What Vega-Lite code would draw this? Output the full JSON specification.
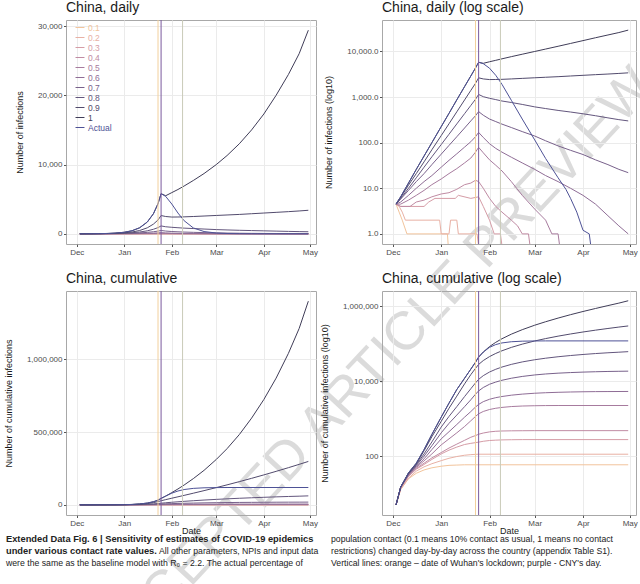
{
"$schema": "https://vega.github.io/schema/vega-lite/v6.json",
"background": "white",
"padding": {"left": 3, "top": 0, "right": 4, "bottom": 0},
"config": {
 "font": "Liberation Sans",
 "view": {"stroke": "#a8a8a8", "strokeWidth": 1},
 "axis": {"grid": true, "gridColor": "#ebebeb", "gridWidth": 1, "domain": false, "tickColor": "#555555", "tickSize": 2.5, "labelColor": "#4d4d4d", "labelFontSize": 8, "labelPadding": 1.5, "titleFontSize": 9, "titleFontWeight": "normal", "titleColor": "#1a1a1a"},
 "axisY": {"titlePadding": 13},
 "axisX": {"titlePadding": -1},
 "title": {"fontSize": 14, "fontWeight": "normal", "anchor": "start", "frame": "group", "color": "#1a1a1a", "offset": 5},
 "line": {"strokeWidth": 1}
},
"datasets": {
 "vlines": [
  {"date": "2020-01-23", "kind": "lockdown"},
  {"date": "2020-01-25", "kind": "cny"},
  {"date": "2020-02-08", "kind": "other"}
 ],
 "watermark": [
  {"date": "2020-06-11", "value": -19500, "text": "ACCEPTED ARTICLE PREVIEW"}
 ],
 "caption": [
  {"col": "L", "line": 1, "part": "b", "text": "Extended Data Fig. 6 | Sensitivity of estimates of COVID-19 epidemics"},
  {"col": "L", "line": 2, "part": "b", "text": "under various contact rate values."},
  {"col": "L", "line": 2, "part": "t", "text": "All other parameters, NPIs and input data"},
  {"col": "L", "line": 3, "part": "n", "text": "were the same as the baseline model with R₀ = 2.2. The actual percentage of"},
  {"col": "R", "line": 1, "part": "n", "text": "population contact (0.1 means 10% contact as usual, 1 means no contact"},
  {"col": "R", "line": 2, "part": "n", "text": "restrictions) changed day-by-day across the country (appendix Table S1)."},
  {"col": "R", "line": 3, "part": "n", "text": "Vertical lines: orange – date of Wuhan's lockdown; purple - CNY's day."}
 ],
 "daily": [
  {"contact": "0.1", "date": "2019-12-03", "value": 4.5},
  {"contact": "0.1", "date": "2019-12-05", "value": 3},
  {"contact": "0.1", "date": "2019-12-07", "value": 2},
  {"contact": "0.1", "date": "2019-12-10", "value": 1},
  {"contact": "0.1", "date": "2020-01-05", "value": 1},
  {"contact": "0.1", "date": "2020-01-06", "value": 0.3},
  {"contact": "0.1", "date": "2020-04-30", "value": 0.3},
  {"contact": "0.2", "date": "2019-12-03", "value": 4.5},
  {"contact": "0.2", "date": "2019-12-05", "value": 4},
  {"contact": "0.2", "date": "2019-12-07", "value": 3},
  {"contact": "0.2", "date": "2019-12-09", "value": 2},
  {"contact": "0.2", "date": "2019-12-31", "value": 2},
  {"contact": "0.2", "date": "2020-01-01", "value": 1},
  {"contact": "0.2", "date": "2020-01-06", "value": 1},
  {"contact": "0.2", "date": "2020-01-07", "value": 2},
  {"contact": "0.2", "date": "2020-01-11", "value": 2},
  {"contact": "0.2", "date": "2020-01-12", "value": 1},
  {"contact": "0.2", "date": "2020-01-24", "value": 1},
  {"contact": "0.2", "date": "2020-01-26", "value": 0.3},
  {"contact": "0.2", "date": "2020-04-30", "value": 0.3},
  {"contact": "0.3", "date": "2019-12-03", "value": 4.5},
  {"contact": "0.3", "date": "2019-12-06", "value": 4},
  {"contact": "0.3", "date": "2019-12-21", "value": 4},
  {"contact": "0.3", "date": "2019-12-24", "value": 5},
  {"contact": "0.3", "date": "2019-12-28", "value": 6},
  {"contact": "0.3", "date": "2020-01-10", "value": 6},
  {"contact": "0.3", "date": "2020-01-12", "value": 7},
  {"contact": "0.3", "date": "2020-01-20", "value": 6},
  {"contact": "0.3", "date": "2020-01-25", "value": 6.5},
  {"contact": "0.3", "date": "2020-01-28", "value": 4},
  {"contact": "0.3", "date": "2020-02-01", "value": 2},
  {"contact": "0.3", "date": "2020-02-04", "value": 1},
  {"contact": "0.3", "date": "2020-02-08", "value": 1},
  {"contact": "0.3", "date": "2020-02-10", "value": 0.3},
  {"contact": "0.3", "date": "2020-04-30", "value": 0.3},
  {"contact": "0.4", "date": "2019-12-03", "value": 4.5},
  {"contact": "0.4", "date": "2019-12-06", "value": 4},
  {"contact": "0.4", "date": "2019-12-12", "value": 4},
  {"contact": "0.4", "date": "2019-12-16", "value": 5},
  {"contact": "0.4", "date": "2019-12-21", "value": 5.5},
  {"contact": "0.4", "date": "2019-12-26", "value": 6.5},
  {"contact": "0.4", "date": "2020-01-01", "value": 7.5},
  {"contact": "0.4", "date": "2020-01-06", "value": 8},
  {"contact": "0.4", "date": "2020-01-11", "value": 9.5},
  {"contact": "0.4", "date": "2020-01-16", "value": 12},
  {"contact": "0.4", "date": "2020-01-20", "value": 13},
  {"contact": "0.4", "date": "2020-01-23", "value": 15},
  {"contact": "0.4", "date": "2020-01-25", "value": 14},
  {"contact": "0.4", "date": "2020-01-28", "value": 10},
  {"contact": "0.4", "date": "2020-02-01", "value": 6},
  {"contact": "0.4", "date": "2020-02-05", "value": 4},
  {"contact": "0.4", "date": "2020-02-09", "value": 3},
  {"contact": "0.4", "date": "2020-02-15", "value": 2},
  {"contact": "0.4", "date": "2020-02-19", "value": 1.5},
  {"contact": "0.4", "date": "2020-02-22", "value": 1},
  {"contact": "0.4", "date": "2020-02-26", "value": 1},
  {"contact": "0.4", "date": "2020-02-28", "value": 0.3},
  {"contact": "0.4", "date": "2020-04-30", "value": 0.3},
  {"contact": "0.5", "date": "2019-12-03", "value": 4.5},
  {"contact": "0.5", "date": "2019-12-06", "value": 4.5},
  {"contact": "0.5", "date": "2019-12-11", "value": 5.5},
  {"contact": "0.5", "date": "2019-12-16", "value": 7},
  {"contact": "0.5", "date": "2019-12-21", "value": 9},
  {"contact": "0.5", "date": "2019-12-26", "value": 12},
  {"contact": "0.5", "date": "2020-01-01", "value": 16},
  {"contact": "0.5", "date": "2020-01-06", "value": 21},
  {"contact": "0.5", "date": "2020-01-11", "value": 27},
  {"contact": "0.5", "date": "2020-01-16", "value": 36},
  {"contact": "0.5", "date": "2020-01-20", "value": 46},
  {"contact": "0.5", "date": "2020-01-23", "value": 62},
  {"contact": "0.5", "date": "2020-01-25", "value": 79},
  {"contact": "0.5", "date": "2020-01-28", "value": 60},
  {"contact": "0.5", "date": "2020-02-01", "value": 42},
  {"contact": "0.5", "date": "2020-02-05", "value": 32},
  {"contact": "0.5", "date": "2020-02-09", "value": 24},
  {"contact": "0.5", "date": "2020-02-15", "value": 14},
  {"contact": "0.5", "date": "2020-02-22", "value": 7},
  {"contact": "0.5", "date": "2020-03-01", "value": 3.5},
  {"contact": "0.5", "date": "2020-03-08", "value": 2},
  {"contact": "0.5", "date": "2020-03-12", "value": 1},
  {"contact": "0.5", "date": "2020-03-16", "value": 1},
  {"contact": "0.5", "date": "2020-03-18", "value": 0.3},
  {"contact": "0.5", "date": "2020-04-30", "value": 0.3},
  {"contact": "0.6", "date": "2019-12-03", "value": 4.5},
  {"contact": "0.6", "date": "2019-12-06", "value": 5},
  {"contact": "0.6", "date": "2019-12-11", "value": 7},
  {"contact": "0.6", "date": "2019-12-16", "value": 10},
  {"contact": "0.6", "date": "2019-12-21", "value": 14},
  {"contact": "0.6", "date": "2019-12-26", "value": 19},
  {"contact": "0.6", "date": "2020-01-01", "value": 29},
  {"contact": "0.6", "date": "2020-01-06", "value": 41},
  {"contact": "0.6", "date": "2020-01-11", "value": 57},
  {"contact": "0.6", "date": "2020-01-16", "value": 80},
  {"contact": "0.6", "date": "2020-01-20", "value": 105},
  {"contact": "0.6", "date": "2020-01-23", "value": 135},
  {"contact": "0.6", "date": "2020-01-25", "value": 168},
  {"contact": "0.6", "date": "2020-01-28", "value": 130},
  {"contact": "0.6", "date": "2020-02-01", "value": 95},
  {"contact": "0.6", "date": "2020-02-05", "value": 75},
  {"contact": "0.6", "date": "2020-02-09", "value": 62},
  {"contact": "0.6", "date": "2020-02-15", "value": 48},
  {"contact": "0.6", "date": "2020-02-22", "value": 36},
  {"contact": "0.6", "date": "2020-03-01", "value": 26},
  {"contact": "0.6", "date": "2020-03-08", "value": 19},
  {"contact": "0.6", "date": "2020-03-16", "value": 14},
  {"contact": "0.6", "date": "2020-03-24", "value": 10},
  {"contact": "0.6", "date": "2020-04-01", "value": 7},
  {"contact": "0.6", "date": "2020-04-09", "value": 4.5},
  {"contact": "0.6", "date": "2020-04-17", "value": 2.5},
  {"contact": "0.6", "date": "2020-04-24", "value": 1.5},
  {"contact": "0.6", "date": "2020-04-30", "value": 1},
  {"contact": "0.7", "date": "2019-12-03", "value": 4.5},
  {"contact": "0.7", "date": "2019-12-06", "value": 5.8},
  {"contact": "0.7", "date": "2019-12-11", "value": 9},
  {"contact": "0.7", "date": "2019-12-16", "value": 14},
  {"contact": "0.7", "date": "2019-12-21", "value": 21},
  {"contact": "0.7", "date": "2019-12-26", "value": 33},
  {"contact": "0.7", "date": "2020-01-01", "value": 56},
  {"contact": "0.7", "date": "2020-01-06", "value": 87},
  {"contact": "0.7", "date": "2020-01-11", "value": 135},
  {"contact": "0.7", "date": "2020-01-16", "value": 210},
  {"contact": "0.7", "date": "2020-01-20", "value": 300},
  {"contact": "0.7", "date": "2020-01-23", "value": 390},
  {"contact": "0.7", "date": "2020-01-25", "value": 480},
  {"contact": "0.7", "date": "2020-01-28", "value": 400},
  {"contact": "0.7", "date": "2020-02-01", "value": 330},
  {"contact": "0.7", "date": "2020-02-05", "value": 290},
  {"contact": "0.7", "date": "2020-02-09", "value": 255},
  {"contact": "0.7", "date": "2020-02-15", "value": 215},
  {"contact": "0.7", "date": "2020-02-22", "value": 175},
  {"contact": "0.7", "date": "2020-03-01", "value": 140},
  {"contact": "0.7", "date": "2020-03-08", "value": 110},
  {"contact": "0.7", "date": "2020-03-16", "value": 85},
  {"contact": "0.7", "date": "2020-03-24", "value": 68},
  {"contact": "0.7", "date": "2020-04-01", "value": 55},
  {"contact": "0.7", "date": "2020-04-09", "value": 42},
  {"contact": "0.7", "date": "2020-04-17", "value": 33},
  {"contact": "0.7", "date": "2020-04-24", "value": 26},
  {"contact": "0.7", "date": "2020-04-30", "value": 22},
  {"contact": "0.8", "date": "2019-12-03", "value": 4.5},
  {"contact": "0.8", "date": "2019-12-06", "value": 6},
  {"contact": "0.8", "date": "2019-12-11", "value": 10},
  {"contact": "0.8", "date": "2019-12-16", "value": 17},
  {"contact": "0.8", "date": "2019-12-21", "value": 29},
  {"contact": "0.8", "date": "2019-12-26", "value": 49},
  {"contact": "0.8", "date": "2020-01-01", "value": 91},
  {"contact": "0.8", "date": "2020-01-06", "value": 153},
  {"contact": "0.8", "date": "2020-01-11", "value": 258},
  {"contact": "0.8", "date": "2020-01-16", "value": 433},
  {"contact": "0.8", "date": "2020-01-20", "value": 655},
  {"contact": "0.8", "date": "2020-01-23", "value": 895},
  {"contact": "0.8", "date": "2020-01-25", "value": 1140},
  {"contact": "0.8", "date": "2020-01-28", "value": 1020},
  {"contact": "0.8", "date": "2020-02-01", "value": 940},
  {"contact": "0.8", "date": "2020-02-05", "value": 880},
  {"contact": "0.8", "date": "2020-02-09", "value": 820},
  {"contact": "0.8", "date": "2020-02-15", "value": 760},
  {"contact": "0.8", "date": "2020-02-22", "value": 690},
  {"contact": "0.8", "date": "2020-03-01", "value": 610},
  {"contact": "0.8", "date": "2020-03-08", "value": 560},
  {"contact": "0.8", "date": "2020-03-16", "value": 510},
  {"contact": "0.8", "date": "2020-03-24", "value": 470},
  {"contact": "0.8", "date": "2020-04-01", "value": 430},
  {"contact": "0.8", "date": "2020-04-09", "value": 390},
  {"contact": "0.8", "date": "2020-04-17", "value": 350},
  {"contact": "0.8", "date": "2020-04-24", "value": 320},
  {"contact": "0.8", "date": "2020-04-30", "value": 300},
  {"contact": "0.9", "date": "2019-12-03", "value": 4.5},
  {"contact": "0.9", "date": "2019-12-06", "value": 6.4},
  {"contact": "0.9", "date": "2019-12-11", "value": 11.7},
  {"contact": "0.9", "date": "2019-12-16", "value": 21},
  {"contact": "0.9", "date": "2019-12-21", "value": 38},
  {"contact": "0.9", "date": "2019-12-26", "value": 70},
  {"contact": "0.9", "date": "2020-01-01", "value": 143},
  {"contact": "0.9", "date": "2020-01-06", "value": 260},
  {"contact": "0.9", "date": "2020-01-11", "value": 475},
  {"contact": "0.9", "date": "2020-01-16", "value": 865},
  {"contact": "0.9", "date": "2020-01-20", "value": 1400},
  {"contact": "0.9", "date": "2020-01-23", "value": 2000},
  {"contact": "0.9", "date": "2020-01-25", "value": 2640},
  {"contact": "0.9", "date": "2020-01-28", "value": 2500},
  {"contact": "0.9", "date": "2020-02-01", "value": 2420},
  {"contact": "0.9", "date": "2020-02-05", "value": 2430},
  {"contact": "0.9", "date": "2020-02-09", "value": 2450},
  {"contact": "0.9", "date": "2020-02-15", "value": 2500},
  {"contact": "0.9", "date": "2020-02-22", "value": 2570},
  {"contact": "0.9", "date": "2020-03-01", "value": 2650},
  {"contact": "0.9", "date": "2020-03-08", "value": 2720},
  {"contact": "0.9", "date": "2020-03-16", "value": 2800},
  {"contact": "0.9", "date": "2020-03-24", "value": 2900},
  {"contact": "0.9", "date": "2020-04-01", "value": 3000},
  {"contact": "0.9", "date": "2020-04-09", "value": 3100},
  {"contact": "0.9", "date": "2020-04-17", "value": 3200},
  {"contact": "0.9", "date": "2020-04-24", "value": 3300},
  {"contact": "0.9", "date": "2020-04-30", "value": 3400},
  {"contact": "1", "date": "2019-12-03", "value": 4.5},
  {"contact": "1", "date": "2019-12-06", "value": 6.5},
  {"contact": "1", "date": "2019-12-11", "value": 13},
  {"contact": "1", "date": "2019-12-16", "value": 26},
  {"contact": "1", "date": "2019-12-21", "value": 51},
  {"contact": "1", "date": "2019-12-26", "value": 100},
  {"contact": "1", "date": "2020-01-01", "value": 225},
  {"contact": "1", "date": "2020-01-06", "value": 440},
  {"contact": "1", "date": "2020-01-11", "value": 870},
  {"contact": "1", "date": "2020-01-16", "value": 1700},
  {"contact": "1", "date": "2020-01-20", "value": 2900},
  {"contact": "1", "date": "2020-01-23", "value": 4350},
  {"contact": "1", "date": "2020-01-25", "value": 5800},
  {"contact": "1", "date": "2020-01-28", "value": 5500},
  {"contact": "1", "date": "2020-02-01", "value": 5950},
  {"contact": "1", "date": "2020-02-05", "value": 6400},
  {"contact": "1", "date": "2020-02-09", "value": 6900},
  {"contact": "1", "date": "2020-02-15", "value": 7700},
  {"contact": "1", "date": "2020-02-22", "value": 8700},
  {"contact": "1", "date": "2020-03-01", "value": 10000},
  {"contact": "1", "date": "2020-03-08", "value": 11300},
  {"contact": "1", "date": "2020-03-16", "value": 13000},
  {"contact": "1", "date": "2020-03-24", "value": 15000},
  {"contact": "1", "date": "2020-04-01", "value": 17300},
  {"contact": "1", "date": "2020-04-09", "value": 20000},
  {"contact": "1", "date": "2020-04-17", "value": 23000},
  {"contact": "1", "date": "2020-04-24", "value": 26000},
  {"contact": "1", "date": "2020-04-30", "value": 29400},
  {"contact": "Actual", "date": "2019-12-03", "value": 4.5},
  {"contact": "Actual", "date": "2019-12-06", "value": 6.5},
  {"contact": "Actual", "date": "2019-12-11", "value": 13},
  {"contact": "Actual", "date": "2019-12-16", "value": 26},
  {"contact": "Actual", "date": "2019-12-21", "value": 51},
  {"contact": "Actual", "date": "2019-12-26", "value": 100},
  {"contact": "Actual", "date": "2020-01-01", "value": 225},
  {"contact": "Actual", "date": "2020-01-06", "value": 440},
  {"contact": "Actual", "date": "2020-01-11", "value": 870},
  {"contact": "Actual", "date": "2020-01-16", "value": 1700},
  {"contact": "Actual", "date": "2020-01-20", "value": 2900},
  {"contact": "Actual", "date": "2020-01-23", "value": 4350},
  {"contact": "Actual", "date": "2020-01-25", "value": 5800},
  {"contact": "Actual", "date": "2020-01-28", "value": 5400},
  {"contact": "Actual", "date": "2020-02-01", "value": 4300},
  {"contact": "Actual", "date": "2020-02-05", "value": 3000},
  {"contact": "Actual", "date": "2020-02-09", "value": 1900},
  {"contact": "Actual", "date": "2020-02-15", "value": 850},
  {"contact": "Actual", "date": "2020-02-22", "value": 330},
  {"contact": "Actual", "date": "2020-03-01", "value": 115},
  {"contact": "Actual", "date": "2020-03-08", "value": 45},
  {"contact": "Actual", "date": "2020-03-16", "value": 17},
  {"contact": "Actual", "date": "2020-03-21", "value": 9.5},
  {"contact": "Actual", "date": "2020-03-24", "value": 6},
  {"contact": "Actual", "date": "2020-03-28", "value": 3},
  {"contact": "Actual", "date": "2020-04-01", "value": 1.2},
  {"contact": "Actual", "date": "2020-04-05", "value": 1},
  {"contact": "Actual", "date": "2020-04-07", "value": 0.3},
  {"contact": "Actual", "date": "2020-04-30", "value": 0.3}
 ],
 "cumul": [
  {"contact": "0.1", "date": "2019-12-03", "value": 5},
  {"contact": "0.1", "date": "2019-12-06", "value": 13},
  {"contact": "0.1", "date": "2019-12-11", "value": 25},
  {"contact": "0.1", "date": "2019-12-16", "value": 35},
  {"contact": "0.1", "date": "2019-12-21", "value": 43},
  {"contact": "0.1", "date": "2019-12-26", "value": 49},
  {"contact": "0.1", "date": "2020-01-01", "value": 54},
  {"contact": "0.1", "date": "2020-01-06", "value": 57},
  {"contact": "0.1", "date": "2020-01-11", "value": 58},
  {"contact": "0.1", "date": "2020-01-16", "value": 59},
  {"contact": "0.1", "date": "2020-04-30", "value": 59},
  {"contact": "0.2", "date": "2019-12-03", "value": 5},
  {"contact": "0.2", "date": "2019-12-06", "value": 13},
  {"contact": "0.2", "date": "2019-12-11", "value": 26},
  {"contact": "0.2", "date": "2019-12-16", "value": 40},
  {"contact": "0.2", "date": "2019-12-21", "value": 52},
  {"contact": "0.2", "date": "2019-12-26", "value": 63},
  {"contact": "0.2", "date": "2020-01-01", "value": 76},
  {"contact": "0.2", "date": "2020-01-06", "value": 88},
  {"contact": "0.2", "date": "2020-01-11", "value": 98},
  {"contact": "0.2", "date": "2020-01-16", "value": 106},
  {"contact": "0.2", "date": "2020-01-20", "value": 110},
  {"contact": "0.2", "date": "2020-01-23", "value": 112},
  {"contact": "0.2", "date": "2020-01-25", "value": 113},
  {"contact": "0.2", "date": "2020-04-30", "value": 113},
  {"contact": "0.3", "date": "2019-12-03", "value": 5},
  {"contact": "0.3", "date": "2019-12-06", "value": 14},
  {"contact": "0.3", "date": "2019-12-11", "value": 29},
  {"contact": "0.3", "date": "2019-12-16", "value": 45},
  {"contact": "0.3", "date": "2019-12-21", "value": 60},
  {"contact": "0.3", "date": "2019-12-26", "value": 82},
  {"contact": "0.3", "date": "2020-01-01", "value": 115},
  {"contact": "0.3", "date": "2020-01-06", "value": 145},
  {"contact": "0.3", "date": "2020-01-11", "value": 175},
  {"contact": "0.3", "date": "2020-01-16", "value": 205},
  {"contact": "0.3", "date": "2020-01-20", "value": 220},
  {"contact": "0.3", "date": "2020-01-23", "value": 230},
  {"contact": "0.3", "date": "2020-01-25", "value": 237},
  {"contact": "0.3", "date": "2020-01-28", "value": 250},
  {"contact": "0.3", "date": "2020-02-01", "value": 262},
  {"contact": "0.3", "date": "2020-02-05", "value": 268},
  {"contact": "0.3", "date": "2020-02-09", "value": 272},
  {"contact": "0.3", "date": "2020-02-15", "value": 275},
  {"contact": "0.3", "date": "2020-02-22", "value": 277},
  {"contact": "0.3", "date": "2020-04-30", "value": 277},
  {"contact": "0.4", "date": "2019-12-03", "value": 5},
  {"contact": "0.4", "date": "2019-12-06", "value": 14},
  {"contact": "0.4", "date": "2019-12-11", "value": 30},
  {"contact": "0.4", "date": "2019-12-16", "value": 47},
  {"contact": "0.4", "date": "2019-12-21", "value": 65},
  {"contact": "0.4", "date": "2019-12-26", "value": 90},
  {"contact": "0.4", "date": "2020-01-01", "value": 125},
  {"contact": "0.4", "date": "2020-01-06", "value": 165},
  {"contact": "0.4", "date": "2020-01-11", "value": 210},
  {"contact": "0.4", "date": "2020-01-16", "value": 265},
  {"contact": "0.4", "date": "2020-01-20", "value": 320},
  {"contact": "0.4", "date": "2020-01-23", "value": 355},
  {"contact": "0.4", "date": "2020-01-25", "value": 385},
  {"contact": "0.4", "date": "2020-01-28", "value": 415},
  {"contact": "0.4", "date": "2020-02-01", "value": 445},
  {"contact": "0.4", "date": "2020-02-05", "value": 462},
  {"contact": "0.4", "date": "2020-02-09", "value": 470},
  {"contact": "0.4", "date": "2020-02-15", "value": 475},
  {"contact": "0.4", "date": "2020-02-22", "value": 478},
  {"contact": "0.4", "date": "2020-03-01", "value": 480},
  {"contact": "0.4", "date": "2020-04-30", "value": 480},
  {"contact": "0.5", "date": "2019-12-03", "value": 5},
  {"contact": "0.5", "date": "2019-12-06", "value": 15},
  {"contact": "0.5", "date": "2019-12-11", "value": 31},
  {"contact": "0.5", "date": "2019-12-16", "value": 50},
  {"contact": "0.5", "date": "2019-12-21", "value": 75},
  {"contact": "0.5", "date": "2019-12-26", "value": 115},
  {"contact": "0.5", "date": "2020-01-01", "value": 200},
  {"contact": "0.5", "date": "2020-01-06", "value": 290},
  {"contact": "0.5", "date": "2020-01-11", "value": 420},
  {"contact": "0.5", "date": "2020-01-16", "value": 620},
  {"contact": "0.5", "date": "2020-01-20", "value": 880},
  {"contact": "0.5", "date": "2020-01-23", "value": 1150},
  {"contact": "0.5", "date": "2020-01-25", "value": 1350},
  {"contact": "0.5", "date": "2020-01-28", "value": 1560},
  {"contact": "0.5", "date": "2020-02-01", "value": 1760},
  {"contact": "0.5", "date": "2020-02-05", "value": 1900},
  {"contact": "0.5", "date": "2020-02-09", "value": 2000},
  {"contact": "0.5", "date": "2020-02-15", "value": 2110},
  {"contact": "0.5", "date": "2020-02-22", "value": 2180},
  {"contact": "0.5", "date": "2020-03-01", "value": 2220},
  {"contact": "0.5", "date": "2020-03-08", "value": 2240},
  {"contact": "0.5", "date": "2020-03-16", "value": 2250},
  {"contact": "0.5", "date": "2020-04-30", "value": 2250},
  {"contact": "0.6", "date": "2019-12-03", "value": 5},
  {"contact": "0.6", "date": "2019-12-06", "value": 15},
  {"contact": "0.6", "date": "2019-12-11", "value": 32},
  {"contact": "0.6", "date": "2019-12-16", "value": 53},
  {"contact": "0.6", "date": "2019-12-21", "value": 85},
  {"contact": "0.6", "date": "2019-12-26", "value": 150},
  {"contact": "0.6", "date": "2020-01-01", "value": 290},
  {"contact": "0.6", "date": "2020-01-06", "value": 450},
  {"contact": "0.6", "date": "2020-01-11", "value": 700},
  {"contact": "0.6", "date": "2020-01-16", "value": 1100},
  {"contact": "0.6", "date": "2020-01-20", "value": 1550},
  {"contact": "0.6", "date": "2020-01-23", "value": 2050},
  {"contact": "0.6", "date": "2020-01-25", "value": 2400},
  {"contact": "0.6", "date": "2020-01-28", "value": 2850},
  {"contact": "0.6", "date": "2020-02-01", "value": 3300},
  {"contact": "0.6", "date": "2020-02-05", "value": 3640},
  {"contact": "0.6", "date": "2020-02-09", "value": 3910},
  {"contact": "0.6", "date": "2020-02-15", "value": 4240},
  {"contact": "0.6", "date": "2020-02-22", "value": 4530},
  {"contact": "0.6", "date": "2020-03-01", "value": 4780},
  {"contact": "0.6", "date": "2020-03-08", "value": 4930},
  {"contact": "0.6", "date": "2020-03-16", "value": 5060},
  {"contact": "0.6", "date": "2020-03-24", "value": 5160},
  {"contact": "0.6", "date": "2020-04-01", "value": 5230},
  {"contact": "0.6", "date": "2020-04-09", "value": 5280},
  {"contact": "0.6", "date": "2020-04-17", "value": 5300},
  {"contact": "0.6", "date": "2020-04-30", "value": 5330},
  {"contact": "0.7", "date": "2019-12-03", "value": 5},
  {"contact": "0.7", "date": "2019-12-06", "value": 15},
  {"contact": "0.7", "date": "2019-12-11", "value": 33},
  {"contact": "0.7", "date": "2019-12-16", "value": 56},
  {"contact": "0.7", "date": "2019-12-21", "value": 100},
  {"contact": "0.7", "date": "2019-12-26", "value": 190},
  {"contact": "0.7", "date": "2020-01-01", "value": 420},
  {"contact": "0.7", "date": "2020-01-06", "value": 750},
  {"contact": "0.7", "date": "2020-01-11", "value": 1250},
  {"contact": "0.7", "date": "2020-01-16", "value": 2100},
  {"contact": "0.7", "date": "2020-01-20", "value": 3200},
  {"contact": "0.7", "date": "2020-01-23", "value": 4500},
  {"contact": "0.7", "date": "2020-01-25", "value": 5500},
  {"contact": "0.7", "date": "2020-01-28", "value": 6800},
  {"contact": "0.7", "date": "2020-02-01", "value": 8300},
  {"contact": "0.7", "date": "2020-02-05", "value": 9500},
  {"contact": "0.7", "date": "2020-02-09", "value": 10600},
  {"contact": "0.7", "date": "2020-02-15", "value": 12000},
  {"contact": "0.7", "date": "2020-02-22", "value": 13400},
  {"contact": "0.7", "date": "2020-03-01", "value": 14700},
  {"contact": "0.7", "date": "2020-03-08", "value": 15600},
  {"contact": "0.7", "date": "2020-03-16", "value": 16400},
  {"contact": "0.7", "date": "2020-03-24", "value": 17000},
  {"contact": "0.7", "date": "2020-04-01", "value": 17500},
  {"contact": "0.7", "date": "2020-04-09", "value": 17900},
  {"contact": "0.7", "date": "2020-04-17", "value": 18200},
  {"contact": "0.7", "date": "2020-04-24", "value": 18400},
  {"contact": "0.7", "date": "2020-04-30", "value": 18550},
  {"contact": "0.8", "date": "2019-12-03", "value": 5},
  {"contact": "0.8", "date": "2019-12-06", "value": 15},
  {"contact": "0.8", "date": "2019-12-11", "value": 34},
  {"contact": "0.8", "date": "2019-12-16", "value": 59},
  {"contact": "0.8", "date": "2019-12-21", "value": 115},
  {"contact": "0.8", "date": "2019-12-26", "value": 240},
  {"contact": "0.8", "date": "2020-01-01", "value": 600},
  {"contact": "0.8", "date": "2020-01-06", "value": 1150},
  {"contact": "0.8", "date": "2020-01-11", "value": 2100},
  {"contact": "0.8", "date": "2020-01-16", "value": 3900},
  {"contact": "0.8", "date": "2020-01-20", "value": 6300},
  {"contact": "0.8", "date": "2020-01-23", "value": 9000},
  {"contact": "0.8", "date": "2020-01-25", "value": 11200},
  {"contact": "0.8", "date": "2020-01-28", "value": 14080},
  {"contact": "0.8", "date": "2020-02-01", "value": 17590},
  {"contact": "0.8", "date": "2020-02-05", "value": 20830},
  {"contact": "0.8", "date": "2020-02-09", "value": 23890},
  {"contact": "0.8", "date": "2020-02-15", "value": 28120},
  {"contact": "0.8", "date": "2020-02-22", "value": 32710},
  {"contact": "0.8", "date": "2020-03-01", "value": 37390},
  {"contact": "0.8", "date": "2020-03-08", "value": 41080},
  {"contact": "0.8", "date": "2020-03-16", "value": 44950},
  {"contact": "0.8", "date": "2020-03-24", "value": 48460},
  {"contact": "0.8", "date": "2020-04-01", "value": 51700},
  {"contact": "0.8", "date": "2020-04-09", "value": 54670},
  {"contact": "0.8", "date": "2020-04-17", "value": 57370},
  {"contact": "0.8", "date": "2020-04-24", "value": 59440},
  {"contact": "0.8", "date": "2020-04-30", "value": 61500},
  {"contact": "0.9", "date": "2019-12-03", "value": 5},
  {"contact": "0.9", "date": "2019-12-06", "value": 15},
  {"contact": "0.9", "date": "2019-12-11", "value": 35},
  {"contact": "0.9", "date": "2019-12-16", "value": 62},
  {"contact": "0.9", "date": "2019-12-21", "value": 140},
  {"contact": "0.9", "date": "2019-12-26", "value": 330},
  {"contact": "0.9", "date": "2020-01-01", "value": 850},
  {"contact": "0.9", "date": "2020-01-06", "value": 1900},
  {"contact": "0.9", "date": "2020-01-11", "value": 4000},
  {"contact": "0.9", "date": "2020-01-16", "value": 8500},
  {"contact": "0.9", "date": "2020-01-20", "value": 15000},
  {"contact": "0.9", "date": "2020-01-23", "value": 22000},
  {"contact": "0.9", "date": "2020-01-25", "value": 28000},
  {"contact": "0.9", "date": "2020-01-28", "value": 35600},
  {"contact": "0.9", "date": "2020-02-01", "value": 45400},
  {"contact": "0.9", "date": "2020-02-05", "value": 55100},
  {"contact": "0.9", "date": "2020-02-09", "value": 64900},
  {"contact": "0.9", "date": "2020-02-15", "value": 79800},
  {"contact": "0.9", "date": "2020-02-22", "value": 97500},
  {"contact": "0.9", "date": "2020-03-01", "value": 118400},
  {"contact": "0.9", "date": "2020-03-08", "value": 137200},
  {"contact": "0.9", "date": "2020-03-16", "value": 159300},
  {"contact": "0.9", "date": "2020-03-24", "value": 182100},
  {"contact": "0.9", "date": "2020-04-01", "value": 205700},
  {"contact": "0.9", "date": "2020-04-09", "value": 230100},
  {"contact": "0.9", "date": "2020-04-17", "value": 255300},
  {"contact": "0.9", "date": "2020-04-24", "value": 278100},
  {"contact": "0.9", "date": "2020-04-30", "value": 298200},
  {"contact": "1", "date": "2019-12-03", "value": 5},
  {"contact": "1", "date": "2019-12-06", "value": 15},
  {"contact": "1", "date": "2019-12-11", "value": 36},
  {"contact": "1", "date": "2019-12-16", "value": 65},
  {"contact": "1", "date": "2019-12-21", "value": 150},
  {"contact": "1", "date": "2019-12-26", "value": 380},
  {"contact": "1", "date": "2020-01-01", "value": 1100},
  {"contact": "1", "date": "2020-01-06", "value": 2600},
  {"contact": "1", "date": "2020-01-11", "value": 6000},
  {"contact": "1", "date": "2020-01-16", "value": 12000},
  {"contact": "1", "date": "2020-01-20", "value": 21000},
  {"contact": "1", "date": "2020-01-23", "value": 32000},
  {"contact": "1", "date": "2020-01-25", "value": 44000},
  {"contact": "1", "date": "2020-01-28", "value": 60000},
  {"contact": "1", "date": "2020-02-01", "value": 84000},
  {"contact": "1", "date": "2020-02-05", "value": 109000},
  {"contact": "1", "date": "2020-02-09", "value": 136000},
  {"contact": "1", "date": "2020-02-15", "value": 180000},
  {"contact": "1", "date": "2020-02-22", "value": 237000},
  {"contact": "1", "date": "2020-03-01", "value": 312000},
  {"contact": "1", "date": "2020-03-08", "value": 386000},
  {"contact": "1", "date": "2020-03-16", "value": 483000},
  {"contact": "1", "date": "2020-03-24", "value": 596000},
  {"contact": "1", "date": "2020-04-01", "value": 724000},
  {"contact": "1", "date": "2020-04-09", "value": 871000},
  {"contact": "1", "date": "2020-04-17", "value": 1041000},
  {"contact": "1", "date": "2020-04-24", "value": 1212000},
  {"contact": "1", "date": "2020-04-30", "value": 1400000},
  {"contact": "Actual", "date": "2019-12-03", "value": 5},
  {"contact": "Actual", "date": "2019-12-06", "value": 15},
  {"contact": "Actual", "date": "2019-12-11", "value": 36},
  {"contact": "Actual", "date": "2019-12-16", "value": 65},
  {"contact": "Actual", "date": "2019-12-21", "value": 150},
  {"contact": "Actual", "date": "2019-12-26", "value": 380},
  {"contact": "Actual", "date": "2020-01-01", "value": 1100},
  {"contact": "Actual", "date": "2020-01-06", "value": 2600},
  {"contact": "Actual", "date": "2020-01-11", "value": 6000},
  {"contact": "Actual", "date": "2020-01-16", "value": 12000},
  {"contact": "Actual", "date": "2020-01-20", "value": 21000},
  {"contact": "Actual", "date": "2020-01-23", "value": 32000},
  {"contact": "Actual", "date": "2020-01-25", "value": 44000},
  {"contact": "Actual", "date": "2020-01-28", "value": 60000},
  {"contact": "Actual", "date": "2020-02-01", "value": 80000},
  {"contact": "Actual", "date": "2020-02-05", "value": 95000},
  {"contact": "Actual", "date": "2020-02-09", "value": 105000},
  {"contact": "Actual", "date": "2020-02-15", "value": 113000},
  {"contact": "Actual", "date": "2020-02-22", "value": 117000},
  {"contact": "Actual", "date": "2020-03-01", "value": 118500},
  {"contact": "Actual", "date": "2020-03-08", "value": 119000},
  {"contact": "Actual", "date": "2020-04-30", "value": 119000}
 ]
},
"columns": 2,
"bounds": "flush",
"align": "each",
"spacing": {"row": 47, "column": 66},
"concat": [
 {
  "width": 250, "height": 224,
  "title": "China, daily",
  "layer": [
   {
    "data": {"name": "daily"},
    "mark": {"type": "line", "strokeWidth": 1, "clip": true},
    "encoding": {
     "x": {"field": "date", "type": "temporal", "scale": {"type": "utc", "domain": [{"year": 2019, "month": 11, "date": 24, "utc": true}, {"year": 2020, "month": 5, "date": 5, "utc": true}]}, "axis": {"title": null, "format": "%b", "values": [{"year": 2019, "month": 12, "date": 1, "utc": true}, {"year": 2020, "month": 1, "date": 1, "utc": true}, {"year": 2020, "month": 2, "date": 1, "utc": true}, {"year": 2020, "month": 3, "date": 1, "utc": true}, {"year": 2020, "month": 4, "date": 1, "utc": true}, {"year": 2020, "month": 5, "date": 1, "utc": true}]}},
     "y": {"field": "value", "type": "quantitative", "scale": {"domain": [-1470, 30870], "nice": false, "zero": false}, "axis": {"title": "Number of infections", "values": [0, 10000, 20000, 30000], "format": ",.0f"}},
     "color": {"field": "contact", "type": "nominal", "sort": null,
      "scale": {"domain": ["0.1", "0.2", "0.3", "0.4", "0.5", "0.6", "0.7", "0.8", "0.9", "1", "Actual"], "range": ["#f2c49c", "#e8b0a4", "#d59ca6", "#c08ba3", "#a77b9e", "#8f6d96", "#78618b", "#63567d", "#524b6d", "#403d58", "#4e5296"]},
      "legend": {"orient": "none", "legendX": 9, "legendY": 2.5, "title": null, "symbolType": "stroke", "symbolStrokeWidth": 1.5, "symbolSize": 80, "labelFontSize": 8.5, "labelOffset": 3, "rowPadding": 0, "padding": 0, "labelColor": {"expr": "scale('color', datum.value)"}}}
    }
   },
   {
    "data": {"name": "vlines"},
    "mark": {"type": "rule", "strokeWidth": 1},
    "encoding": {
     "x": {"field": "date", "type": "temporal"},
     "stroke": {"condition": [{"test": "datum.kind == 'lockdown'", "value": "#f2d09c"}, {"test": "datum.kind == 'cny'", "value": "#7a5a9e"}], "value": "#c9cab8"}
    }
   },
   {
    "data": {"name": "watermark"},
    "mark": {"type": "text", "angle": -47, "fontSize": 54, "font": "Liberation Sans", "color": "#b8b8b8", "opacity": 0.5, "align": "center", "baseline": "middle"},
    "encoding": {
     "x": {"field": "date", "type": "temporal"},
     "y": {"field": "value", "type": "quantitative"},
     "text": {"field": "text"}
    }
   }
  ]
 },
 {
  "width": 254, "height": 224,
  "title": "China, daily (log scale)",
  "layer": [
   {
    "data": {"name": "daily"},
    "mark": {"type": "line", "strokeWidth": 1, "clip": true},
    "encoding": {
     "x": {"field": "date", "type": "temporal", "scale": {"type": "utc", "domain": [{"year": 2019, "month": 11, "date": 24, "utc": true}, {"year": 2020, "month": 5, "date": 5, "utc": true}]}, "axis": {"title": null, "format": "%b", "values": [{"year": 2019, "month": 12, "date": 1, "utc": true}, {"year": 2020, "month": 1, "date": 1, "utc": true}, {"year": 2020, "month": 2, "date": 1, "utc": true}, {"year": 2020, "month": 3, "date": 1, "utc": true}, {"year": 2020, "month": 4, "date": 1, "utc": true}, {"year": 2020, "month": 5, "date": 1, "utc": true}]}},
     "y": {"field": "value", "type": "quantitative", "scale": {"type": "log", "domain": [0.6, 49000], "nice": false}, "axis": {"title": "Number of infections (log10)", "values": [1, 10, 100, 1000, 10000], "format": ",.1f"}},
     "color": {"field": "contact", "type": "nominal", "sort": null, "legend": null}
    }
   },
   {
    "data": {"name": "vlines"},
    "mark": {"type": "rule", "strokeWidth": 1},
    "encoding": {
     "x": {"field": "date", "type": "temporal"},
     "stroke": {"condition": [{"test": "datum.kind == 'lockdown'", "value": "#f2d09c"}, {"test": "datum.kind == 'cny'", "value": "#7a5a9e"}], "value": "#c9cab8"}
    }
   }
  ]
 },
 {
  "width": 250, "height": 224,
  "title": "China, cumulative",
  "layer": [
   {
    "data": {"name": "cumul"},
    "mark": {"type": "line", "strokeWidth": 1, "clip": true},
    "encoding": {
     "x": {"field": "date", "type": "temporal", "scale": {"type": "utc", "domain": [{"year": 2019, "month": 11, "date": 24, "utc": true}, {"year": 2020, "month": 5, "date": 5, "utc": true}]}, "axis": {"title": "Date", "format": "%b", "values": [{"year": 2019, "month": 12, "date": 1, "utc": true}, {"year": 2020, "month": 1, "date": 1, "utc": true}, {"year": 2020, "month": 2, "date": 1, "utc": true}, {"year": 2020, "month": 3, "date": 1, "utc": true}, {"year": 2020, "month": 4, "date": 1, "utc": true}, {"year": 2020, "month": 5, "date": 1, "utc": true}]}},
     "y": {"field": "value", "type": "quantitative", "scale": {"domain": [-70000, 1470000], "nice": false, "zero": false}, "axis": {"title": "Number of cumulative infections", "values": [0, 500000, 1000000], "format": ",.0f"}},
     "color": {"field": "contact", "type": "nominal", "sort": null, "legend": null}
    }
   },
   {
    "data": {"name": "vlines"},
    "mark": {"type": "rule", "strokeWidth": 1},
    "encoding": {
     "x": {"field": "date", "type": "temporal"},
     "stroke": {"condition": [{"test": "datum.kind == 'lockdown'", "value": "#f2d09c"}, {"test": "datum.kind == 'cny'", "value": "#7a5a9e"}], "value": "#c9cab8"}
    }
   }
  ]
 },
 {
  "width": 254, "height": 224,
  "title": "China, cumulative (log scale)",
  "layer": [
   {
    "data": {"name": "cumul"},
    "mark": {"type": "line", "strokeWidth": 1, "clip": true},
    "encoding": {
     "x": {"field": "date", "type": "temporal", "scale": {"type": "utc", "domain": [{"year": 2019, "month": 11, "date": 24, "utc": true}, {"year": 2020, "month": 5, "date": 5, "utc": true}]}, "axis": {"title": "Date", "format": "%b", "values": [{"year": 2019, "month": 12, "date": 1, "utc": true}, {"year": 2020, "month": 1, "date": 1, "utc": true}, {"year": 2020, "month": 2, "date": 1, "utc": true}, {"year": 2020, "month": 3, "date": 1, "utc": true}, {"year": 2020, "month": 4, "date": 1, "utc": true}, {"year": 2020, "month": 5, "date": 1, "utc": true}]}},
     "y": {"field": "value", "type": "quantitative", "scale": {"type": "log", "domain": [2.7, 2550000], "nice": false}, "axis": {"title": "Number of cumulative infections (log10)", "values": [100, 10000, 1000000], "format": ",.0f"}},
     "color": {"field": "contact", "type": "nominal", "sort": null, "legend": null}
    }
   },
   {
    "data": {"name": "vlines"},
    "mark": {"type": "rule", "strokeWidth": 1},
    "encoding": {
     "x": {"field": "date", "type": "temporal"},
     "stroke": {"condition": [{"test": "datum.kind == 'lockdown'", "value": "#f2d09c"}, {"test": "datum.kind == 'cny'", "value": "#7a5a9e"}], "value": "#c9cab8"}
    }
   }
  ]
 },
 {
  "width": 250, "height": 1,
  "data": {"name": "caption"},
  "view": {"stroke": null},
  "encoding": {
   "x": {"field": "col", "type": "nominal", "scale": {"type": "point", "domain": ["L", "R"], "range": [-60, 265], "padding": 0}, "axis": null},
   "y": {"field": "line", "type": "ordinal", "scale": {"type": "point", "padding": 0, "range": [-23, 1]}, "axis": null},
   "text": {"field": "text"}
  },
  "layer": [
   {"transform": [{"filter": "datum.part == 'b'"}], "mark": {"type": "text", "align": "left", "baseline": "middle", "font": "Liberation Sans", "fontSize": 9.3, "fontWeight": "bold", "color": "#222222"}},
   {"transform": [{"filter": "datum.part == 'n'"}], "mark": {"type": "text", "align": "left", "baseline": "middle", "font": "Liberation Sans", "fontSize": 8.7, "color": "#222222"}},
   {"transform": [{"filter": "datum.part == 't'"}], "mark": {"type": "text", "align": "left", "baseline": "middle", "font": "Liberation Sans", "fontSize": 8.7, "dx": 153, "color": "#222222"}}
  ]
 }
]
}
